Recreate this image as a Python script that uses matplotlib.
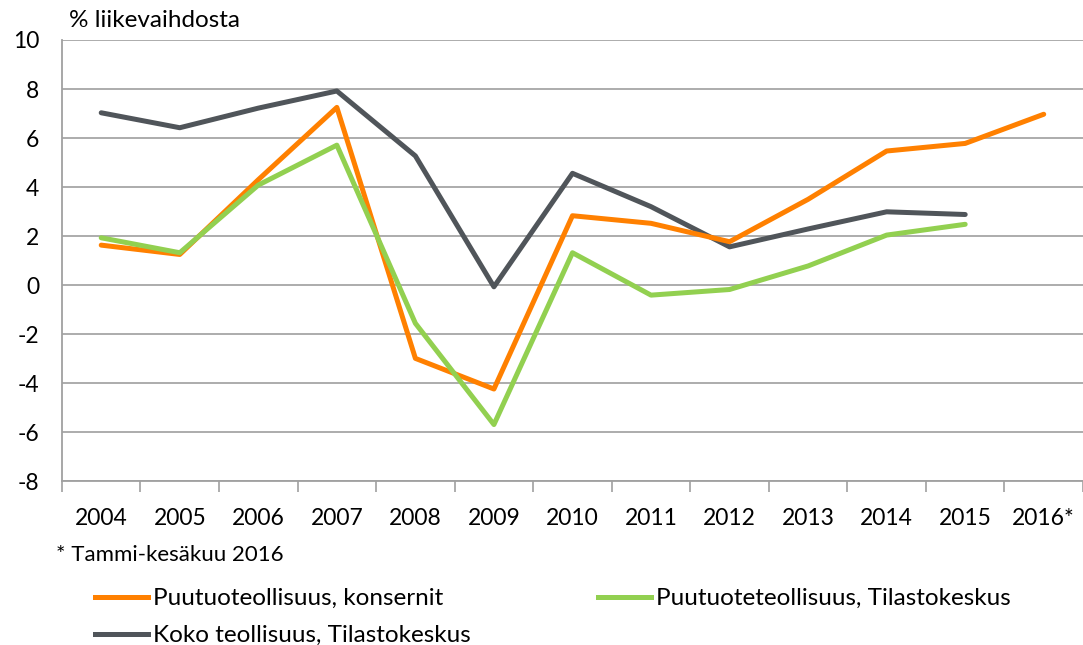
import numpy as np
import matplotlib.pyplot as plt
from matplotlib.lines import Line2D

years = ['2004', '2005', '2006', '2007', '2008', '2009', '2010',
         '2011', '2012', '2013', '2014', '2015', '2016*']
konsernit = [1.63, 1.25, 4.3, 7.25, -2.99, -4.24, 2.83, 2.52, 1.77, 3.5, 5.47, 5.78, 6.97]
puutuote_tk = [1.93, 1.32, 4.08, 5.71, -1.56, -5.69, 1.32, -0.41, -0.18, 0.78, 2.04, 2.48]
koko_tk = [7.03, 6.42, 7.22, 7.92, 5.27, -0.07, 4.56, 3.2, 1.56, 2.29, 2.99, 2.88]

labels = ['Puutuoteollisuus, konsernit', 'Puutuoteteollisuus, Tilastokeskus',
          'Koko teollisuus, Tilastokeskus']
colors = ['#FF8000', '#92D050', '#50555A']

plt.rcParams['font.family'] = ['Lato', 'DejaVu Sans']
plt.rcParams['axes.unicode_minus'] = False

fig = plt.figure(figsize=(10.83, 6.45), dpi=100)
ax = fig.add_axes([0.0572, 0.254, 0.9428, 0.684])

x = np.arange(len(years))
ax.plot(x[:len(koko_tk)], koko_tk, color=colors[2], lw=3.6, solid_capstyle='round', zorder=3)
ax.plot(x[:len(puutuote_tk)], puutuote_tk, color=colors[1], lw=3.6, solid_capstyle='round', zorder=4)
ax.plot(x, konsernit, color=colors[0], lw=3.6, solid_capstyle='round', zorder=3)

ax.set_xlim(-0.5, len(years) - 0.5)
ax.set_ylim(-8, 10)
ax.set_yticks(range(-8, 11, 2))
ax.set_xticks(x)
ax.set_xticklabels(years)
ax.set_xticks(np.arange(-0.5, len(years) + 0.5, 1), minor=True)
ax.tick_params(axis='x', which='major', length=0, pad=19, labelsize=16.5)
ax.tick_params(axis='x', which='minor', length=8, color='#A0A0A0', width=1.2)
ax.tick_params(axis='y', length=0, pad=16.5, labelsize=16.5)
ax.grid(axis='y', color='#A6A6A6', lw=1.3)
ax.set_axisbelow(True)
for s in ['top', 'right']:
    ax.spines[s].set_visible(False)
for s in ['left', 'bottom']:
    ax.spines[s].set_color('#A0A0A0')
    ax.spines[s].set_linewidth(1.3)

fig.text(0.064, 0.968, '% liikevaihdosta', fontsize=17.5, va='center')
fig.text(0.052, 0.139, '* Tammi-kesäkuu 2016', fontsize=16, va='center')

leg_kw = dict(frameon=False, fontsize=17.5, handlelength=2.2, handletextpad=0.2,
              labelspacing=0.66, borderpad=0, borderaxespad=0, loc='upper left')
h = [Line2D([], [], color=c, lw=3.6) for c in colors]
fig.legend([h[0], h[2]], [labels[0], labels[2]],
           bbox_to_anchor=(0.0877, 0.088), **leg_kw)
fig.legend([h[1]], [labels[1]], bbox_to_anchor=(0.552, 0.088), **leg_kw)

fig.savefig('out.png', dpi=100)
